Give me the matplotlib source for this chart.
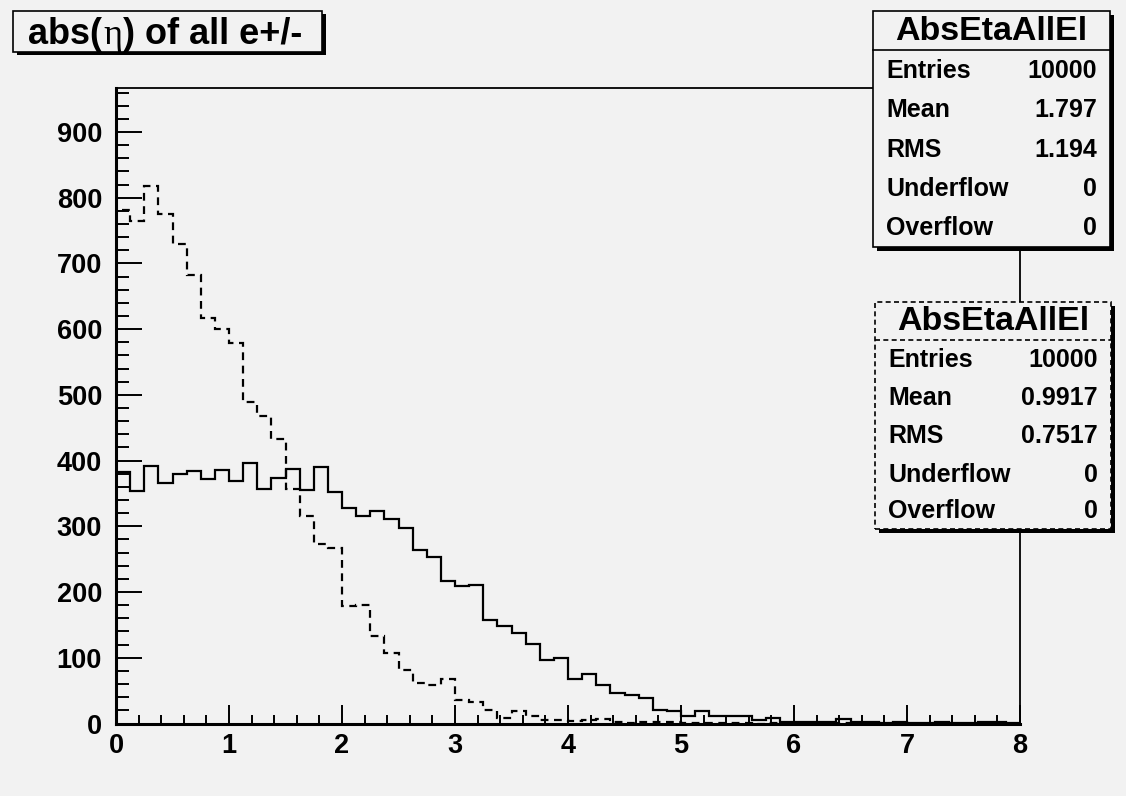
import matplotlib
matplotlib.use("Agg")
import matplotlib.pyplot as plt
import numpy as np
from matplotlib.patches import Rectangle
from matplotlib.lines import Line2D
from matplotlib.ticker import MultipleLocator

W, H = 1126, 796
BG = "#f2f2f2"

# ---- data (64 bins of 0.125 over 0..8) ----
edges = np.linspace(0, 8, 65)
solid = [382, 354, 392, 366, 380, 384, 372, 386, 369, 397, 357, 374, 388,
         356, 391, 353, 328, 316, 323, 311, 297, 264, 254, 217, 209, 210,
         157, 148, 137, 121, 97, 99, 68, 76, 58, 46, 43, 39, 21, 19, 12, 19,
         12, 11, 12, 5, 9, 3, 2, 2, 3, 7, 3, 2, 1, 2, 1, 1, 3, 1, 1, 2, 2, 1]
dashed = [782, 764, 818, 775, 729, 682, 617, 601, 579, 489, 468, 433, 357,
          315, 273, 267, 179, 181, 133, 108, 81, 61, 58, 68, 36, 33, 21, 9,
          19, 12, 5, 6, 4, 5, 7, 2, 1, 2, 3, 2, 1, 1, 1, 1, 1, 0, 1, 0, 1, 0,
          0, 1, 0, 0, 0, 0, 0, 0, 0, 0, 0, 0, 0, 0]

title_parts = ["abs(", "\u03b7", ") of all e+/-"]
stat_name = "AbsEtaAllEl"
stat_labels = ["Entries", "Mean", "RMS", "Underflow", "Overflow"]
stat_solid = ["10000", "1.797", "1.194", "0", "0"]
stat_dashed = ["10000", "0.9917", "0.7517", "0", "0"]

plt.rcParams.update({"font.family": ["Liberation Sans", "DejaVu Sans"],
                     "font.weight": "bold"})


def fx(x):
    return x / W


def fy(y):
    return 1 - y / H


fig = plt.figure(figsize=(W / 100, H / 100), dpi=100, facecolor=BG)
ax = fig.add_axes([fx(116), fy(723.5), (1020 - 116) / W, (723.5 - 88) / H])
ax.set_facecolor(BG)

ax.stairs(solid, edges, color="black", lw=1.6)
ax.stairs(dashed, edges, color="black", lw=1.6, ls=(0, (3.5, 2.5)))

ax.set_xlim(0, 8)
ax.set_ylim(0, 967)
ax.xaxis.set_major_locator(MultipleLocator(1))
ax.xaxis.set_minor_locator(MultipleLocator(0.2))
ax.yaxis.set_major_locator(MultipleLocator(100))
ax.yaxis.set_minor_locator(MultipleLocator(20))
ax.tick_params(axis="y", which="major", direction="in", length=18.7,
               width=1.4, labelsize=19.5, pad=10)
ax.tick_params(axis="y", which="minor", direction="in", length=9.4,
               width=1.4)
ax.tick_params(axis="x", which="major", direction="in", length=13.7,
               width=1.4, labelsize=19.5, pad=7)
ax.tick_params(axis="x", which="minor", direction="in", length=6.8,
               width=1.4)
for s in ["left", "bottom"]:
    ax.spines[s].set_linewidth(2.2)
for s in ["top", "right"]:
    ax.spines[s].set_linewidth(1.3)

# ---- title box ----
fig.add_artist(Rectangle((fx(17), fy(55)), (322 - 13) / W, (52 - 11) / H,
                         transform=fig.transFigure, fc="black", ec="none",
                         zorder=3))
fig.add_artist(Rectangle((fx(13), fy(52)), (322 - 13) / W, (52 - 11) / H,
                         transform=fig.transFigure, fc=BG, ec="black",
                         lw=1.2, zorder=4))
renderer = fig.canvas.get_renderer()
x0 = 28
for i, part in enumerate(title_parts):
    if i == 1:
        t = fig.text(fx(x0), fy(44), part, fontsize=26,
                     family="Liberation Serif", weight="normal",
                     va="baseline", zorder=5)
    else:
        t = fig.text(fx(x0), fy(44), part, fontsize=26, weight="bold",
                     va="baseline", zorder=5)
    bb = t.get_window_extent(renderer)
    x0 = bb.x1 + 1


# ---- stat boxes ----
def stat_box(left, top, right, bottom, sep, rows, values, ls):
    fig.add_artist(Rectangle((fx(left + 4), fy(bottom + 4)),
                             (right - left) / W, (bottom - top) / H,
                             transform=fig.transFigure, fc="black",
                             ec="none", zorder=3))
    fig.add_artist(Rectangle((fx(left), fy(bottom)), (right - left) / W,
                             (bottom - top) / H, transform=fig.transFigure,
                             fc=BG, ec="black", lw=1.2, ls=ls, zorder=4))
    fig.add_artist(Line2D([fx(left), fx(right)], [fy(sep), fy(sep)],
                          transform=fig.transFigure, color="black", lw=1.2,
                          ls=ls, zorder=5))
    fig.text(fx((left + right) / 2), fy((top + sep) / 2 + 1), stat_name,
             fontsize=24.5, weight="bold", ha="center", va="center",
             zorder=6)
    for y, lab, val in zip(rows, stat_labels, values):
        fig.text(fx(left + 13), fy(y), lab, fontsize=18, weight="bold",
                 ha="left", va="center", zorder=6)
        fig.text(fx(right - 13), fy(y), val, fontsize=18, weight="bold",
                 ha="right", va="center", zorder=6)


stat_box(873, 11, 1110, 247, 50, [71, 110, 150, 189, 228], stat_solid,
         "-")
stat_box(875, 302, 1111, 529, 340, [360, 398, 436, 475, 511], stat_dashed,
         (0, (3, 2)))

fig.savefig("out.png", dpi=100, facecolor=BG)
